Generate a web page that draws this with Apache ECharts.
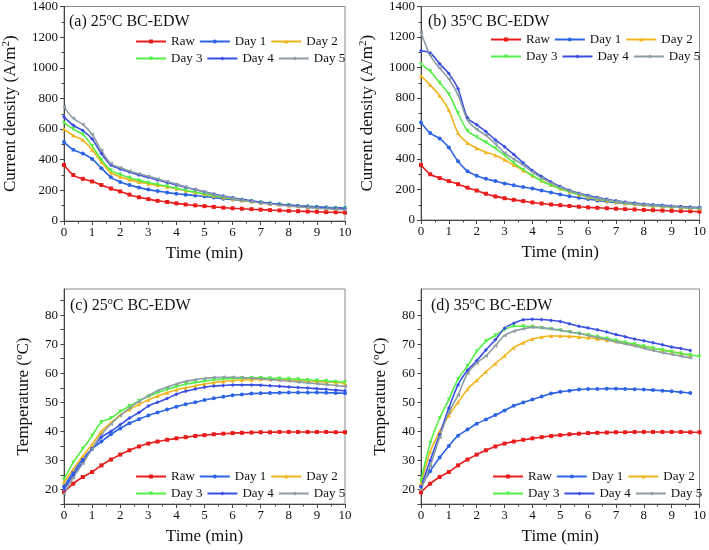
<!DOCTYPE html>
<html><head><meta charset="utf-8">
<script src="https://cdn.jsdelivr.net/npm/echarts@6/dist/echarts.min.js"></script>
<style>html,body{margin:0;padding:0;background:#fff}#c{width:709px;height:550px}</style>
</head><body><div id="c"></div>
<script>
const time = [0,0.33,0.67,1,1.33,1.67,2,2.33,2.67,3,3.33,3.67,4,4.33,4.67,5,5.33,5.67,6,6.33,6.67,7,7.33,7.67,8,8.33,8.67,9,9.33,9.67,10];
const names = ['Raw','Day 1','Day 2','Day 3','Day 4','Day 5'];
const xTicks = [0,1,2,3,4,5,6,7,8,9,10];
const yTicksCur = [0,200,400,600,800,1000,1200,1400];
const yTicksTemp = [20,30,40,50,60,70,80];

// (a) current density, 25 C
const a_raw = [365,300,275,258,235,212,193,172,155,143,132,124,115,108,102,97,92,87,83,80,77,74,71,69,66,64,62,60,58,57,55];
const a_d1 = [515,465,440,405,345,285,255,235,218,205,195,186,178,172,166,160,153,146,140,133,127,120,114,109,104,100,96,93,90,87,85];
const a_d2 = [600,558,528,465,385,315,288,270,255,243,233,222,210,198,186,174,163,153,144,135,127,119,113,107,101,96,92,88,84,81,78];
const a_d3 = [640,600,565,490,400,330,303,282,265,250,238,226,213,200,188,176,165,155,146,137,129,121,114,108,102,97,92,88,84,81,78];
const a_d4 = [680,625,590,535,440,365,340,320,300,285,268,252,236,220,205,190,176,163,152,141,132,123,116,109,103,98,93,89,85,82,79];
const a_d5 = [745,670,630,565,460,375,348,327,308,292,275,258,240,222,205,189,174,160,148,137,127,118,111,104,98,93,88,84,80,77,74];
// (b) current density, 35 C
const b_raw = [360,300,275,255,235,212,193,172,155,143,132,124,115,108,102,97,92,87,83,80,77,74,71,69,66,64,62,60,58,57,55];
const b_d1 = [640,570,535,475,385,320,290,270,255,240,228,216,206,193,180,168,156,146,137,128,121,114,108,103,98,94,90,87,84,81,78];
const b_d2 = [945,885,815,720,570,505,470,445,425,395,360,325,290,258,230,205,185,165,150,138,127,118,110,104,98,93,89,85,82,79,76];
const b_d3 = [1020,975,900,825,700,585,545,510,470,425,375,330,290,255,228,205,185,167,152,139,128,119,111,104,98,93,89,85,82,79,76];
const b_d4 = [1110,1095,1025,960,860,670,625,580,525,480,430,375,325,285,250,220,195,175,160,147,136,126,118,111,105,100,96,92,88,85,82];
const b_d5 = [1230,1080,995,925,820,655,595,555,500,440,400,360,315,275,243,215,192,172,156,143,132,122,114,107,101,96,92,88,84,81,78];
// (c) temperature, 25 C
const c_raw = [19,22,24.3,26,28.3,30.3,32,33.5,34.8,35.8,36.5,37.1,37.6,38,38.4,38.7,39,39.2,39.4,39.5,39.6,39.7,39.7,39.8,39.8,39.8,39.8,39.8,39.8,39.7,39.7];
const c_d1 = [21,26,30.5,34,36.5,39,41,42.8,44.2,45.5,46.5,47.5,48.5,49.3,50,50.8,51.4,51.9,52.4,52.7,53,53.1,53.2,53.3,53.4,53.4,53.4,53.4,53.3,53.2,53.1];
const c_d2 = [22.5,27,31.5,35.5,40,43,45.6,47.5,49.3,50.8,52.2,53.3,54.3,55,55.7,56.3,56.8,57.2,57.5,57.7,57.8,57.9,57.9,57.8,57.7,57.6,57.4,57.2,57,56.8,56.6];
const c_d3 = [23.5,29.3,34,38.5,43.2,44.5,46.8,48.7,50.5,52,53.3,54.4,55.4,56.2,56.8,57.3,57.7,58,58.2,58.3,58.4,58.4,58.3,58.2,58.1,57.9,57.7,57.5,57.3,57.1,56.9];
const c_d4 = [20,25,29.5,34,38,40,42.3,44.6,46.5,48.7,50,51.3,52.8,53.8,54.6,55.2,55.6,55.8,56,56,56,55.9,55.7,55.5,55.3,55.1,54.9,54.7,54.5,54.2,54];
const c_d5 = [18.5,24,29,34,39,42.5,45.5,48,50.3,52.3,54,55.2,56.3,57.2,57.8,58.2,58.5,58.6,58.6,58.5,58.3,58.1,57.8,57.6,57.3,57,56.7,56.4,56.1,55.8,55.5];
// (d) temperature, 35 C
const d_raw = [19,22,24.3,26,28.3,30.3,32,33.5,34.8,35.8,36.5,37.1,37.6,38,38.4,38.7,39,39.2,39.4,39.5,39.6,39.7,39.7,39.8,39.8,39.8,39.8,39.8,39.8,39.7,39.7];
const d_d1 = [21,26.3,31,35,38.5,40.6,42.6,44.1,45.6,47.2,48.8,49.9,51,52,53,53.6,54,54.4,54.6,54.6,54.7,54.7,54.6,54.5,54.4,54.2,54,53.8,53.5,53.2];
const d_d2 = [22,33,40,45.5,50,54.5,57.5,60.5,63.3,66,68.8,70.5,71.8,72.5,72.8,72.8,72.7,72.5,72.2,71.8,71.4,71,70.4,69.8,69.2,68.6,68,67.4,66.8,66.2];
const d_d3 = [23,36,44.5,51,58,62.5,67.5,71,73,75,76.2,76.2,76,75.6,75.2,74.8,74.2,73.7,73.2,72.6,72,71.3,70.6,70,69.3,68.6,68,67.4,66.8,66.3,65.8];
const d_d4 = [21,30,39,48,56,61,64.3,68,71.5,75.5,77.2,78.4,78.6,78.5,78.2,77.8,77,76.2,75.6,75,74.2,73.3,72.6,71.8,71.2,70.5,69.8,69,68.5,67.8];
const d_d5 = [20,28,38,46.5,52.5,60,63.5,66,69.5,73,74.5,75.3,75.8,75.7,75.3,74.8,74.3,73.7,73,72.3,71.6,70.8,70.1,69.4,68.6,67.8,67.1,66.5,65.9,65.3];

const panels = [
  [a_raw,a_d1,a_d2,a_d3,a_d4,a_d5],
  [b_raw,b_d1,b_d2,b_d3,b_d4,b_d5],
  [c_raw,c_d1,c_d2,c_d3,c_d4,c_d5],
  [d_raw,d_d1,d_d2,d_d3,d_d4,d_d5]
];
const colors = ['#e81c1c','#2d64e2','#f2b41c','#52ef46','#3a4fe2','#8c9da6'];
const symbols = ['rect','circle','triangle','triangle','diamond','triangle'];
const rotates = [0,0,0,180,0,90];
const FF = 'Liberation Serif';
const TXT = '#111';
const AX = '#444';

const grids = [
  {left:64, top:6, width:281, height:215},
  {left:421, top:6, width:281, height:214},
  {left:64, top:289, width:281, height:215},
  {left:421, top:289, width:281, height:215}
].map(g => Object.assign(g, {show:true, borderColor:'#8a8a8a', borderWidth:1, backgroundColor:'transparent'}));

const xAxes = grids.map((g,i) => ({
  type:'value', gridIndex:i, min:0, max:10, interval:1,
  name:'Time (min)', nameLocation:'middle', nameGap:24,
  nameTextStyle:{fontFamily:FF, fontSize:17, color:TXT},
  axisLine:{onZero:false, lineStyle:{color:AX, width:1}},
  axisTick:{show:true, length:4, lineStyle:{color:AX}},
  minorTick:{show:true, splitNumber:2, length:2.5, lineStyle:{color:AX}},
  splitLine:{show:false},
  axisLabel:{fontFamily:FF, fontSize:13, color:TXT, margin:5, formatter: v => xTicks.includes(v) ? String(v) : ''}
}));

const richSup = {
  n:{fontFamily:FF, fontSize:17, color:TXT, lineHeight:20},
  s:{fontFamily:FF, fontSize:11, color:TXT, lineHeight:20, verticalAlign:'top', padding:[0,0,6,0]}
};
const yAxes = grids.map((g,i) => {
  const cur = i < 2;
  const base = {
    type:'value', gridIndex:i,
    nameLocation:'middle',
    axisLine:{show:true, onZero:false, lineStyle:{color:AX, width:1}},
    splitLine:{show:false},
    nameTextStyle:{rich:richSup}
  };
  if (cur) {
    return Object.assign(base, {
      min:0, max:1400, interval:200,
      name:'{n|Current density (A/m}{s|2}{n|)}', nameGap:43,
      axisTick:{show:true, length:4, lineStyle:{color:AX}},
      minorTick:{show:true, splitNumber:2, length:2.5, lineStyle:{color:AX}},
      axisLabel:{fontFamily:FF, fontSize:13, color:TXT, margin:6, formatter: v => yTicksCur.includes(v) ? String(v) : ''}
    });
  }
  return Object.assign(base, {
    min:15, max:89, interval:5,
    name:'{n|Temperature (}{s|o}{n|C)}', nameGap:30,
    axisTick:{show:true, length:3.5, lineStyle:{color:AX}, customValues:[15,20,25,30,35,40,45,50,55,60,65,70,75,80,85]},
    axisLabel:{fontFamily:FF, fontSize:13, color:TXT, margin:6, formatter: v => yTicksTemp.includes(v) ? String(v) : ''}
  });
});

const series = [];
panels.forEach((arrs, pi) => {
  arrs.forEach((arr, si) => {
    series.push({
      type:'line', name:names[si], xAxisIndex:pi, yAxisIndex:pi,
      data: arr.map((v,k) => [time[k], v]),
      smooth:0.3, symbol:symbols[si], symbolRotate:rotates[si], symbolSize:4,
      showSymbol:true,
      lineStyle:{width:1.6, color:colors[si]},
      itemStyle:{color:colors[si]},
      emphasis:{disabled:true}
    });
  });
});

const legendPos = [[135,35],[490,33],[135,470],[492,470]];
const legends = legendPos.map(p => ({
  left:p[0], top:p[1], width:215, orient:'horizontal', padding:0,
  itemWidth:30, itemHeight:5, itemGap:4, selectedMode:false,
  textStyle:{fontFamily:FF, fontSize:13, color:TXT, width:31},
  data:names
}));

const titleRich = {
  n:{fontFamily:FF, fontSize:16, color:TXT, lineHeight:20},
  s:{fontFamily:FF, fontSize:10, color:TXT, lineHeight:20, verticalAlign:'top', padding:[0,0,6,0]}
};
const titleDefs = [['(a) 25',69,12],['(b) 35',428,12],['(c) 25',70,296],['(d) 35',431,296]];
const titles = titleDefs.map(t => ({
  text:'{n|' + t[0] + '}{s|o}{n|C BC-EDW}', left:t[1], top:t[2], padding:0,
  textStyle:{fontWeight:'normal', rich:titleRich}
}));

const chart = echarts.init(document.getElementById('c'), null, {renderer:'canvas'});
chart.setOption({
  animation:false,
  backgroundColor:'#fff',
  title:titles,
  legend:legends,
  grid:grids,
  xAxis:xAxes,
  yAxis:yAxes,
  series:series
});
</script></body></html>
